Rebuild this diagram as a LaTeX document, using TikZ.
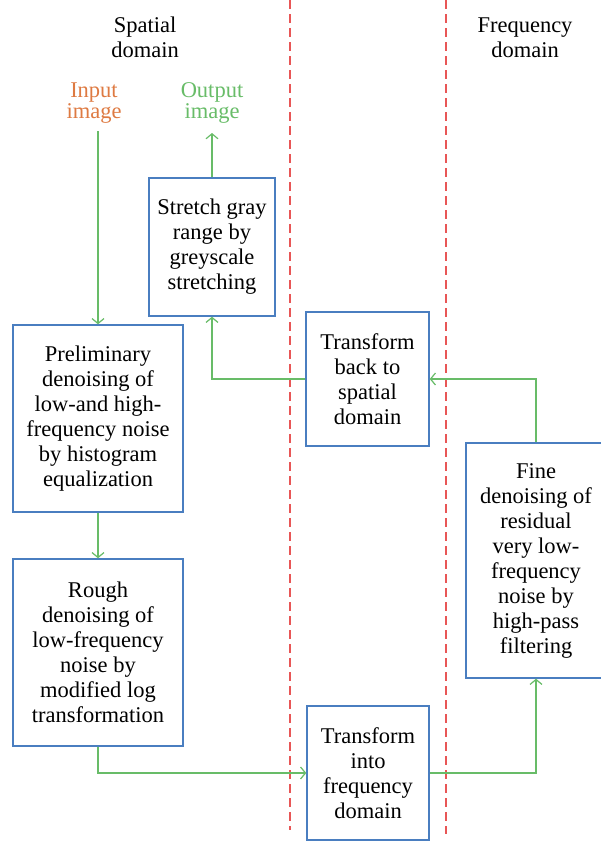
\documentclass[tikz,border=0pt]{standalone}
\usepackage{fontspec}
\setmainfont{Liberation Serif}
\usetikzlibrary{arrows.meta}
\definecolor{boxblue}{RGB}{74,126,192}
\definecolor{arrgreen}{RGB}{104,188,104}
\definecolor{inorange}{RGB}{222,122,66}
\definecolor{dashred}{RGB}{232,86,86}
\tikzset{
  procbox/.style={draw=boxblue, line width=1.4pt, align=center, inner sep=0pt,
    font=\fontsize{22.5}{25}\selectfont},
  flow/.style={draw=arrgreen, line width=1.2pt, -{Straight Barb[length=5pt,width=12pt,line width=1.2pt]}},
  domlabel/.style={align=center, inner sep=0pt, font=\fontsize{22.5}{25}\selectfont},
  iolabel/.style={align=center, inner sep=0pt, font=\fontsize{22.5}{21.5}\selectfont},
  divider/.style={draw=dashred, line width=1.4pt, dash pattern=on 9pt off 5pt}
}
\begin{document}
\begin{tikzpicture}[x=1pt,y=-1pt]
\useasboundingbox (0,0) rectangle (600,841);
% dividers
\coordinate (d1t) at (290,0);
\coordinate (d1b) at (290,830);
\coordinate (d2t) at (446,0);
\coordinate (d2b) at (446,834);
\draw[divider] (d1t) -- (d1b);
\draw[divider] (d2t) -- (d2b);
% labels
\node[domlabel] (spatial) at (145,37.5) {Spatial\\domain};
\node[domlabel] (freq) at (525,37.5) {Frequency\\domain};
\node[iolabel, text=inorange] (input) at (94,103) {Input\\image};
\node[iolabel, text=arrgreen] (output) at (212,103) {Output\\image};
% boxes
\node[procbox, minimum width=126pt, minimum height=138pt] (stretch) at (212,247)
  {Stretch gray\\range by\\greyscale\\stretching};
\node[procbox, minimum width=170pt, minimum height=187pt] (prelim) at (98,418.5)
  {Preliminary\\denoising of\\low-and high-\\frequency noise\\by histogram\\equalization};
\node[procbox, minimum width=170pt, minimum height=187pt] (rough) at (98,652.5)
  {Rough\\denoising of\\low-frequency\\noise by\\modified log\\transformation};
\node[procbox, minimum width=123pt, minimum height=134pt] (back) at (367.5,379)
  {Transform\\back to\\spatial\\domain};
\node[procbox, minimum width=140pt, minimum height=235pt] (fine) at (536,560.5)
  {Fine\\denoising of\\residual\\very low-\\frequency\\noise by\\high-pass\\filtering};
\node[procbox, minimum width=122pt, minimum height=134pt] (into) at (368,773)
  {Transform\\into\\frequency\\domain};
% connectors
\coordinate (inEnd) at (98,131);
\coordinate (outEnd) at (212,133);
\draw[flow] (inEnd) -- (prelim.north);
\draw[flow] (prelim.south) -- (rough.north);
\draw[flow] (rough.south) |- (into.west);
\draw[flow] (into.east) -| (fine.south);
\draw[flow] (fine.north) |- (back.east);
\draw[flow] (back.west) -| (stretch.south);
\draw[flow] (stretch.north) -- (outEnd);
\end{tikzpicture}
\end{document}
